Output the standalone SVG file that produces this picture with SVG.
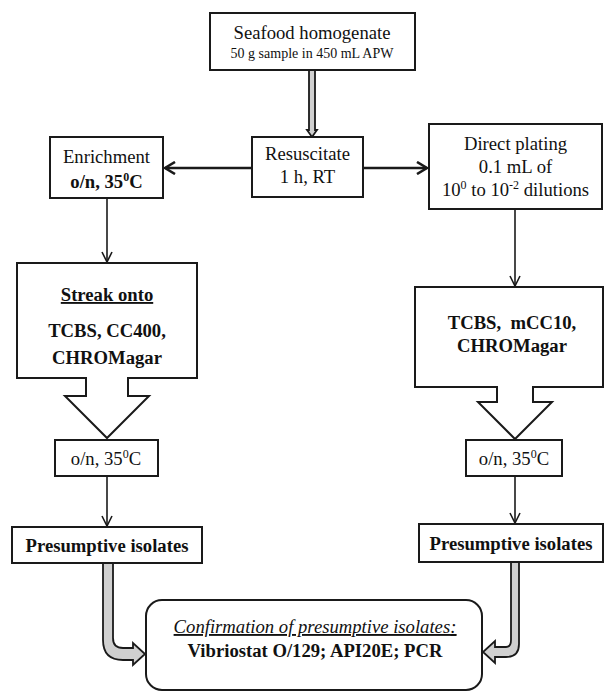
<svg xmlns="http://www.w3.org/2000/svg" width="604" height="694" viewBox="0 0 604 694">
<defs>
<marker id="open" viewBox="0 0 12 12" refX="11" refY="6" markerWidth="12" markerHeight="12" markerUnits="userSpaceOnUse" orient="auto">
<path d="M1,1 L11,6 L1,11" fill="none" stroke="#1a1a1a" stroke-width="1.6"/>
</marker>
<marker id="openB" viewBox="0 0 14 14" refX="12" refY="7" markerWidth="14" markerHeight="14" markerUnits="userSpaceOnUse" orient="auto">
<path d="M2,1 L12,7 L2,13" fill="none" stroke="#1a1a1a" stroke-width="2.6"/>
</marker>
</defs>
<style>
.box{fill:#fff;stroke:#1a1a1a;stroke-width:2}
.t{font-family:"Liberation Serif","Times New Roman",serif;font-size:18.67px;fill:#111;text-anchor:middle}
.s{font-size:14px}
.b{font-weight:bold}
.i{font-style:italic}
.u{text-decoration:underline}
.ln{fill:none;stroke:#1a1a1a;stroke-width:1.6}
.lnB{fill:none;stroke:#1a1a1a;stroke-width:2.6}
.fat{fill:#d0d0d0;stroke:#1a1a1a;stroke-width:1.8;stroke-linejoin:miter}
</style>
<rect width="604" height="694" fill="#fff"/>

<g id="connectors">
<path class="fat" d="M309,70 V130 H307 L312,137 L317,130 H315 V70 Z"/>
<line class="lnB" x1="252" y1="168" x2="165" y2="168" marker-end="url(#openB)"/>
<line class="lnB" x1="363" y1="168" x2="427" y2="168" marker-end="url(#openB)"/>
<line class="ln" x1="107" y1="198" x2="107" y2="262" marker-end="url(#open)"/>
<line class="ln" x1="515" y1="209" x2="515" y2="286" marker-end="url(#open)"/>
<line class="ln" x1="107" y1="476" x2="107" y2="526" marker-end="url(#open)"/>
<line class="ln" x1="515" y1="476" x2="515" y2="523" marker-end="url(#open)"/>
<path class="fat" d="M103,563 V640 Q103,660 123,660 H133 V665 L145,654 L133,643 V648 H123 Q113,648 113,638 V563 Z"/>
<path class="fat" d="M519,562 V644 Q519,657 506,657 H495 V663 L483,652 L495,641 V647 H506 Q511,647 511,640 V562 Z"/>
</g>

<g id="seafood">
<rect class="box" x="210" y="13" width="205" height="57"/>
<text class="t" x="312" y="39">Seafood homogenate</text>
<text class="t s" x="312" y="58">50 g sample in 450 mL APW</text>
</g>

<g id="resuscitate">
<rect class="box" x="252" y="137" width="111" height="60"/>
<text class="t" x="307.5" y="160">Resuscitate</text>
<text class="t" x="307.5" y="183">1 h, RT</text>
</g>

<g id="enrichment">
<rect class="box" x="50" y="137" width="113" height="61"/>
<text class="t" x="106.5" y="163">Enrichment</text>
<text class="t b" x="106.5" y="188">o/n, 35<tspan dy="-7" font-size="12">0</tspan><tspan dy="7">C</tspan></text>
</g>

<g id="direct">
<rect class="box" x="429" y="124" width="173" height="85"/>
<text class="t" x="515.5" y="150">Direct plating</text>
<text class="t" x="515.5" y="173">0.1 mL of</text>
<text class="t" x="515.5" y="196">10<tspan dy="-7" font-size="12">0</tspan><tspan dy="7"> to 10</tspan><tspan dy="-7" font-size="12">-2</tspan><tspan dy="7"> dilutions</tspan></text>
</g>

<g id="streak">
<path class="box" d="M17,263 H197 V378 H128 V396 H149 L107,438 L65,396 H86 V378 H17 Z"/>
<text class="t b u" x="107" y="301">Streak onto</text>
<text class="t b" x="107" y="337">TCBS, CC400,</text>
<text class="t b" x="107" y="364">CHROMagar</text>
</g>

<g id="direct-media">
<path class="box" d="M415,287 H603 V387 H533 V402 H552 L515,439 L478,402 H497 V387 H415 Z"/>
<text class="t b" x="512" y="329" xml:space="preserve">TCBS,  mCC10,</text>
<text class="t b" x="512" y="352">CHROMagar</text>
</g>

<g id="incubate-left">
<rect class="box" x="55" y="440" width="103" height="36"/>
<text class="t" x="106" y="465">o/n, 35<tspan dy="-7" font-size="12">0</tspan><tspan dy="7">C</tspan></text>
</g>

<g id="incubate-right">
<rect class="box" x="466" y="440" width="96" height="36"/>
<text class="t" x="514" y="465">o/n, 35<tspan dy="-7" font-size="12">0</tspan><tspan dy="7">C</tspan></text>
</g>

<g id="presumptive-left">
<rect class="box" x="12" y="527" width="190" height="36"/>
<text class="t b" x="107" y="552">Presumptive isolates</text>
</g>

<g id="presumptive-right">
<rect class="box" x="419" y="524" width="184" height="38"/>
<text class="t b" x="511" y="550">Presumptive isolates</text>
</g>

<g id="confirmation">
<rect class="box" x="146" y="600" width="336" height="90" rx="16" ry="16"/>
<text class="t i u" x="315" y="633">Confirmation of presumptive isolates<tspan text-decoration="underline">:</tspan></text>
<text class="t b" x="315" y="657">Vibriostat O/129; API20E; PCR</text>
</g>
</svg>
